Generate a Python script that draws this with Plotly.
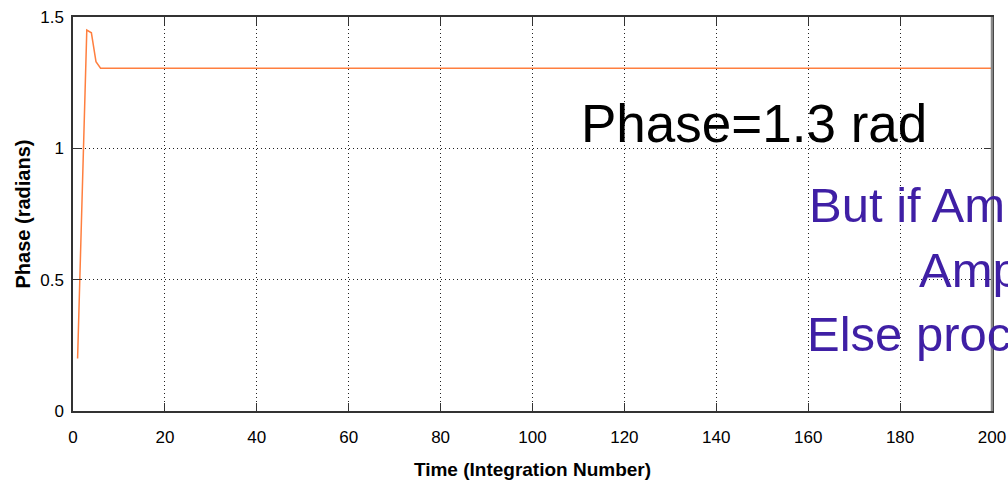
import plotly.graph_objects as go

# Data
time_steps = [1, 2, 3, 4, 5, 6] + list(range(7, 201))
phase_vals = [0.2, 0.82, 1.45, 1.44, 1.33, 1.305] + [1.305] * 194

x_ticks = [0, 20, 40, 60, 80, 100, 120, 140, 160, 180, 200]
y_ticks = [0, 0.5, 1, 1.5]
y_tick_text = ["0", "0.5", "1", "1.5"]

FONT = "Liberation Sans, Arial"

fig = go.Figure()
fig.add_trace(go.Scatter(x=time_steps, y=phase_vals, mode="lines",
                         line=dict(color="#FF7F3F", width=1.5), showlegend=False))

axis_common = dict(showline=True, linecolor="#333333", linewidth=1.5, mirror="ticks",
                   ticks="inside", ticklen=8, tickcolor="#333333",
                   showgrid=True, gridcolor="#222222", griddash="1px,3px", gridwidth=1,
                   zeroline=False, automargin=False,
                   tickfont=dict(family=FONT, size=17, color="black"))

fig.update_xaxes(range=[0, 200], tickvals=x_ticks, ticklabelstandoff=10, **axis_common,
                 title=dict(text="<b>Time (Integration Number)</b>",
                            font=dict(family=FONT, size=19, color="black"),
                            standoff=17))
fig.update_yaxes(range=[0, 1.5], tickvals=y_ticks, ticktext=y_tick_text,
                 ticklabelstandoff=4, **axis_common,
                 title=dict(text="<b>Phase (radians)</b>",
                            font=dict(family=FONT, size=20, color="black"),
                            standoff=4))

L, R, T, B = 73, 16, 17, 74
W, H = 1008, 485
pw, ph = W - L - R, H - T - B

def px_to_paper(px, base, fs):
    return (px - L) / pw, (H - B - (base + 0.21 * fs)) / ph

ax, ay = px_to_paper(580, 143, 53)
fig.add_annotation(x=ax, y=ay, xref="paper", yref="paper", text="Phase=1.3 rad",
                   showarrow=False, xanchor="left", yanchor="bottom", borderpad=0,
                   font=dict(family=FONT, size=53, color="black"))

purple = "#3F1FA5"
purple_lines = ["But if Amp", "Amp", "Else proce"]
purple_x = [808, 918, 806]
purple_base = [223, 288, 352]
for txt, x0, base in zip(purple_lines, purple_x, purple_base):
    ax, ay = px_to_paper(x0, base, 49)
    fig.add_annotation(x=ax, y=ay, xref="paper", yref="paper", text=txt, showarrow=False,
                       xanchor="left", yanchor="bottom", borderpad=0,
                       font=dict(family=FONT, size=49, color=purple))

# grey right frame edge as in the original
fig.add_shape(type="line", xref="paper", yref="paper", x0=1, x1=1, y0=0, y1=1,
              line=dict(color="#888888", width=2.5))

fig.update_layout(width=W, height=H, margin=dict(l=L, r=R, t=T, b=B),
                  plot_bgcolor="white", paper_bgcolor="white")

fig.write_html("out.html")
